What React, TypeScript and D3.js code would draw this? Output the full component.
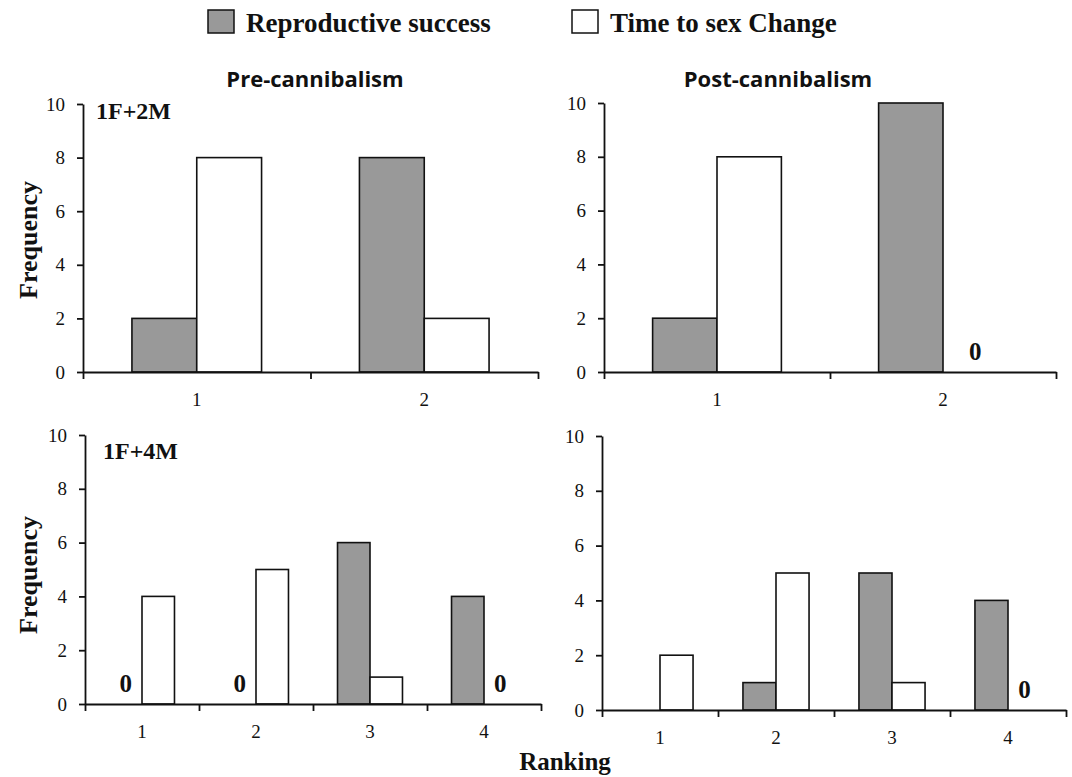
import React, { useEffect, useRef } from 'react';
import * as d3 from 'd3';

// rankings on the x axis
const rankingsTwoMales = ['1', '2'];
const rankingsFourMales = ['1', '2', '3', '4'];
const frequencyTicks = [0, 2, 4, 6, 8, 10];
const seriesNames = ['Reproductive success', 'Time to sex Change'];

// 1F+2M groups
const pre2MReproductive = [2, 8];
const pre2MSexChange = [8, 2];
const post2MReproductive = [2, 10];
const post2MSexChange = [8, 0];

// 1F+4M groups
const pre4MReproductive = [0, 0, 6, 4];
const pre4MSexChange = [4, 5, 1, 0];
const post4MReproductive = [0, 1, 5, 4];
const post4MSexChange = [2, 5, 1, 0];

// zero values written as a bold "0": [series index, rank index]
const pre2MZeroMarks: number[][] = [];
const post2MZeroMarks = [[1, 1]];
const pre4MZeroMarks = [[0, 0], [0, 1], [1, 3]];
const post4MZeroMarks = [[1, 3]];

const GRAY = '#999999';
const INK = '#111111';
const SERIF = '"Liberation Serif", "Times New Roman", serif';

const panels = [
  { ranks: rankingsTwoMales, values: [pre2MReproductive, pre2MSexChange], zeros: pre2MZeroMarks, left: 83, right: 538, y0: 372, y10: 104 },
  { ranks: rankingsTwoMales, values: [post2MReproductive, post2MSexChange], zeros: post2MZeroMarks, left: 604, right: 1056, y0: 372, y10: 103 },
  { ranks: rankingsFourMales, values: [pre4MReproductive, pre4MSexChange], zeros: pre4MZeroMarks, left: 85, right: 541, y0: 704, y10: 435 },
  { ranks: rankingsFourMales, values: [post4MReproductive, post4MSexChange], zeros: post4MZeroMarks, left: 602, right: 1066, y0: 710, y10: 436 },
];

const App = () => {
  const svgRef = useRef<SVGGElement>(null);

  useEffect(() => {
    const svg = d3.select(svgRef.current);
    svg.selectAll('*').remove();

    panels.forEach(p => {
      const g = svg.append('g');
      const x = d3.scaleBand().domain(p.ranks).range([p.left, p.right]);
      const xEdge = d3.scaleLinear().domain([0, p.ranks.length]).range([p.left, p.right]);
      const inner = d3.scaleBand().domain(seriesNames).range([0, x.bandwidth()]).paddingOuter(0.755);
      const y = d3.scaleLinear().domain([0, 10]).range([p.y0, p.y10]);

      const rows = p.ranks.flatMap((r, i) =>
        seriesNames.map((s, si) => ({ rank: r, series: s, si, value: p.values[si][i] }))
      );

      // bars
      g.selectAll('.bar')
        .data(rows.filter(d => d.value > 0))
        .enter()
        .append('rect')
        .attr('class', 'bar')
        .attr('x', d => x(d.rank)! + inner(d.series)!)
        .attr('y', d => y(d.value))
        .attr('width', inner.bandwidth())
        .attr('height', d => y(0) - y(d.value))
        .attr('fill', d => (d.si === 0 ? GRAY : '#fff'))
        .attr('stroke', INK)
        .attr('stroke-width', 1.6);

      // zero marks
      g.selectAll('.zero')
        .data(p.zeros)
        .enter()
        .append('text')
        .attr('class', 'zero')
        .attr('x', d => x(p.ranks[d[1]])! + inner(seriesNames[d[0]])! + inner.bandwidth() / 2)
        .attr('y', y(0) - 12)
        .attr('text-anchor', 'middle')
        .attr('font-family', SERIF)
        .attr('font-weight', 'bold')
        .attr('font-size', 25)
        .attr('fill', INK)
        .text('0');

      // y axis
      const yAxis = g.append('g')
        .attr('transform', `translate(${p.left},0)`)
        .call(d3.axisLeft(y).tickValues(frequencyTicks).tickSize(6).tickPadding(12).tickSizeOuter(0));

      // x axis line with ticks at the rank boundaries
      const xAxis = g.append('g')
        .attr('transform', `translate(0,${p.y0})`)
        .call(d3.axisBottom(xEdge).tickValues(d3.range(p.ranks.length + 1)).tickSize(7).tickSizeOuter(0).tickFormat(() => ''));

      // rank labels
      const xLabels = g.append('g')
        .attr('transform', `translate(0,${p.y0})`)
        .call(d3.axisBottom(x).tickSize(0).tickPadding(21));
      xLabels.select('.domain').remove();

      [yAxis, xAxis, xLabels].forEach(a => {
        a.attr('font-family', SERIF).attr('font-size', 19);
        a.selectAll('path, line').attr('stroke', INK).attr('stroke-width', 1.8);
        a.selectAll('text').attr('fill', INK);
      });
    });
  }, []);

  const boldSerif = { fontFamily: SERIF, fontWeight: 'bold' as const, fill: INK };
  const titleFont = { fontFamily: '"Open Sans", sans-serif', fontWeight: 700, fontSize: 22, fill: INK };

  return (
    <svg width={1072} height={777} style={{ position: 'absolute', left: 0, top: 0, background: '#fff' }}>
      <g ref={svgRef}></g>
      {/* legend */}
      <rect x={208} y={10} width={26} height={23} fill={GRAY} stroke={INK} strokeWidth={1.5} />
      <text x={246} y={32} fontSize={27} style={boldSerif}>{seriesNames[0]}</text>
      <rect x={572} y={10} width={26} height={23} fill="#fff" stroke={INK} strokeWidth={1.5} />
      <text x={610} y={32} fontSize={27} style={boldSerif}>{seriesNames[1]}</text>

      <text x={315} y={87} textAnchor="middle" style={titleFont}>Pre-cannibalism</text>
      <text x={778} y={87} textAnchor="middle" style={titleFont}>Post-cannibalism</text>

      <text x={96} y={119} fontSize={24} style={boldSerif}>1F+2M</text>
      <text x={103} y={459} fontSize={24} style={boldSerif}>1F+4M</text>

      <text transform="translate(37,240) rotate(-90)" textAnchor="middle" fontSize={26} style={boldSerif}>Frequency</text>
      <text transform="translate(37,575) rotate(-90)" textAnchor="middle" fontSize={26} style={boldSerif}>Frequency</text>
      <text x={565} y={770} textAnchor="middle" fontSize={25} style={boldSerif}>Ranking</text>
    </svg>
  );
};

export default App;
